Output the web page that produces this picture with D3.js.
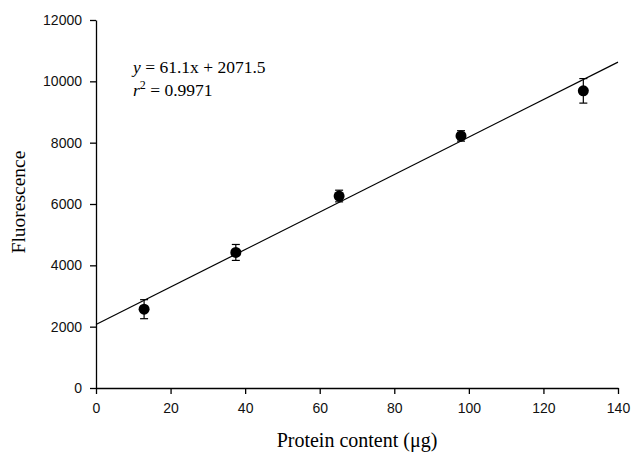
<!DOCTYPE html>
<html>
<head>
<meta charset="utf-8">
<script src="https://cdn.jsdelivr.net/npm/d3@7"></script>
<style>
    body { margin: 0; background: #fff; }
    svg { display: block; }
    .tick text { font-family: "Liberation Sans", Arial, sans-serif; font-size: 14px; fill: #111; }
    .serif { font-family: "Liberation Serif", "Times New Roman", serif; fill: #000; }
</style>
</head>
<body>
<svg id="chart" width="633" height="453"></svg>
<script>
/***************************************************************
    Data
****************************************************************/
const protein = [12.9, 37.5, 65.2, 97.9, 130.7];
const fluorescence = [2570, 4420, 6260, 8220, 9690];
const errors = [310, 260, 190, 170, 400];
const slope = 61.1, intercept = 2071.5;
const xTicks = [0, 20, 40, 60, 80, 100, 120, 140];
const yTicks = [0, 2000, 4000, 6000, 8000, 10000, 12000];

/***************************************************************
    Graph
****************************************************************/
const margin = { left: 96, top: 20, right: 15, bottom: 65 };
const width = 633 - margin.left - margin.right;
const height = 453 - margin.top - margin.bottom;

const svg = d3.select("#chart");
const g = svg.append("g").attr("transform", `translate(${margin.left},${margin.top})`);

const x = d3.scaleLinear().domain([0, 140]).range([0, width]);
const y = d3.scaleLinear().domain([0, 12000]).range([height, 0]);

g.append("g").attr("transform", `translate(0,${height})`)
    .call(d3.axisBottom(x).tickValues(xTicks).tickSize(6).tickSizeOuter(0).tickPadding(9).tickFormat(d3.format("d")))
    .call(a => a.selectAll("path, line").attr("stroke", "#000").attr("stroke-width", 1.3));

g.append("g")
    .call(d3.axisLeft(y).tickValues(yTicks).tickSize(6).tickSizeOuter(0).tickPadding(8).tickFormat(d3.format("d")))
    .call(a => a.selectAll("path, line").attr("stroke", "#000").attr("stroke-width", 1.3));

// regression line
g.append("line")
    .attr("x1", x(0)).attr("y1", y(intercept))
    .attr("x2", x(140)).attr("y2", y(slope * 140 + intercept))
    .attr("stroke", "#000").attr("stroke-width", 1.2);

const pts = protein.map((p, i) => ({ x: p, y: fluorescence[i], e: errors[i] }));

// error bars
const eb = g.selectAll(".err").data(pts).enter().append("g").attr("class", "err")
    .attr("stroke", "#000").attr("stroke-width", 1.2);
eb.append("line")
    .attr("x1", d => x(d.x)).attr("x2", d => x(d.x))
    .attr("y1", d => y(d.y - d.e)).attr("y2", d => y(d.y + d.e));
eb.append("line")
    .attr("x1", d => x(d.x) - 4).attr("x2", d => x(d.x) + 4)
    .attr("y1", d => y(d.y + d.e)).attr("y2", d => y(d.y + d.e));
eb.append("line")
    .attr("x1", d => x(d.x) - 4).attr("x2", d => x(d.x) + 4)
    .attr("y1", d => y(d.y - d.e)).attr("y2", d => y(d.y - d.e));

g.selectAll("circle").data(pts).enter().append("circle")
    .attr("cx", d => x(d.x)).attr("cy", d => y(d.y)).attr("r", 5.5)
    .attr("fill", "#000");

// equation
const eq = svg.append("text").attr("class", "serif").attr("x", 133).attr("y", 73).attr("font-size", 17.5);
eq.append("tspan").attr("font-style", "italic").text("y");
eq.append("tspan").text(" = 61.1x + 2071.5");
const r2 = svg.append("text").attr("class", "serif").attr("x", 133).attr("y", 96).attr("font-size", 17.5);
r2.append("tspan").attr("font-style", "italic").text("r");
r2.append("tspan").attr("font-size", 12).attr("dy", -7).text("2");
r2.append("tspan").attr("dy", 7).text(" = 0.9971");

// axis titles
svg.append("text").attr("class", "serif")
    .attr("x", 357).attr("y", 447)
    .attr("text-anchor", "middle").attr("font-size", 20)
    .text("Protein content (\u03bcg)");
svg.append("text").attr("class", "serif")
    .attr("transform", `translate(25,202) rotate(-90)`)
    .attr("text-anchor", "middle").attr("font-size", 19.5)
    .text("Fluorescence");
</script>
</body>
</html>
